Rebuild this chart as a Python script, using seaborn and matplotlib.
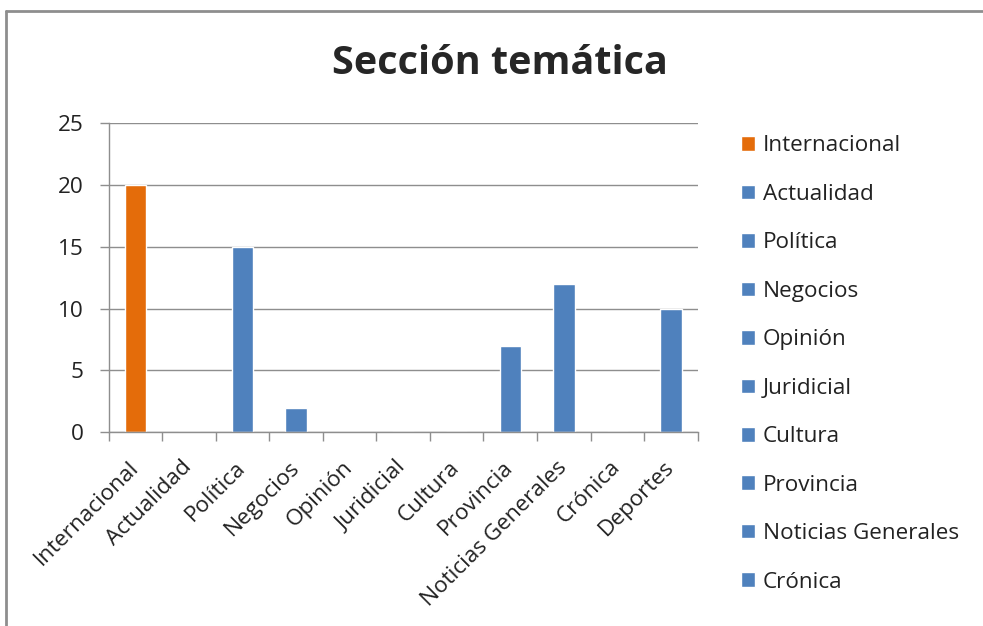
import matplotlib
matplotlib.use("Agg")
import matplotlib.pyplot as plt
import seaborn as sns
import pandas as pd
import numpy as np
from matplotlib.lines import Line2D

categories = ["Internacional", "Actualidad", "Política", "Negocios", "Opinión",
              "Juridicial", "Cultura", "Provincia", "Noticias Generales", "Crónica", "Deportes"]
values = [20, 0, 15, 2, 0, 0, 0, 7, 12, 0, 10]
colors = ["#E46C0A"] + ["#4F81BD"] * 10
yticks = [0, 5, 10, 15, 20, 25]
title = "Sección temática"

sns.set_style("white")
plt.rcParams['font.family'] = ['Open Sans', 'DejaVu Sans']

df = pd.DataFrame({"cat": categories, "val": values})

W, H = 983, 626
GRAY = "#8E8E8E"
FS = 16.2
fig = plt.figure(figsize=(W / 100, H / 100), dpi=100)
ax = fig.add_axes([108.5 / W, 1 - 432.3 / H, (697.7 - 108.5) / W, (432.3 - 123.3) / H])

sns.barplot(data=df, x="cat", y="val", hue="cat", palette=colors, order=categories,
            hue_order=categories, dodge=False, width=0.4, ax=ax, legend=True, saturation=1)

ax.set_ylim(0, 25)
ax.set_xlim(-0.5, len(categories) - 0.5)
ax.set_yticks(yticks)
ax.set_yticklabels([str(t) for t in yticks], fontsize=FS, color="#222222")
ax.yaxis.grid(True, color=GRAY, linewidth=1)
ax.set_axisbelow(True)
ax.set_xlabel("")
ax.set_ylabel("")

ax.set_xticks(range(len(categories)))
ax.set_xticklabels(categories, rotation=45, ha="right", va="center", rotation_mode="anchor",
                   fontsize=FS, color="#222222")
ax.set_xticks(np.arange(-0.5, len(categories)), minor=True)
ax.tick_params(axis="x", which="major", length=0, pad=23)
ax.tick_params(axis="x", which="minor", length=6.7, color=GRAY, width=1, direction="out", bottom=True)
ax.tick_params(axis="y", which="major", length=6.7, color=GRAY, width=1, direction="out", left=True, pad=11)

for s in ["top", "right"]:
    ax.spines[s].set_visible(False)
for s in ["left", "bottom"]:
    ax.spines[s].set_color(GRAY)
    ax.spines[s].set_linewidth(1)

handles, labels = ax.get_legend_handles_labels()
ax.get_legend().remove()
fig.legend(handles[:10], labels[:10], loc="center left", bbox_to_anchor=(741 / W, 1 - 364 / H),
           frameon=False, fontsize=FS, handlelength=0.62, handleheight=0.62, handletextpad=0.35,
           labelspacing=1.22, borderaxespad=0, borderpad=0, labelcolor="#222222")

fig.text(500 / W, 1 - 63 / H, title, ha="center", va="center", fontsize=28.5, fontweight="bold")

# outer frame (top and left)
fig.add_artist(Line2D([6 / W, 1], [1 - 11 / H, 1 - 11 / H], color=GRAY, linewidth=2, transform=fig.transFigure))
fig.add_artist(Line2D([6 / W, 6 / W], [0, 1 - 11 / H], color=GRAY, linewidth=2, transform=fig.transFigure))

fig.savefig("out.png", dpi=100)
